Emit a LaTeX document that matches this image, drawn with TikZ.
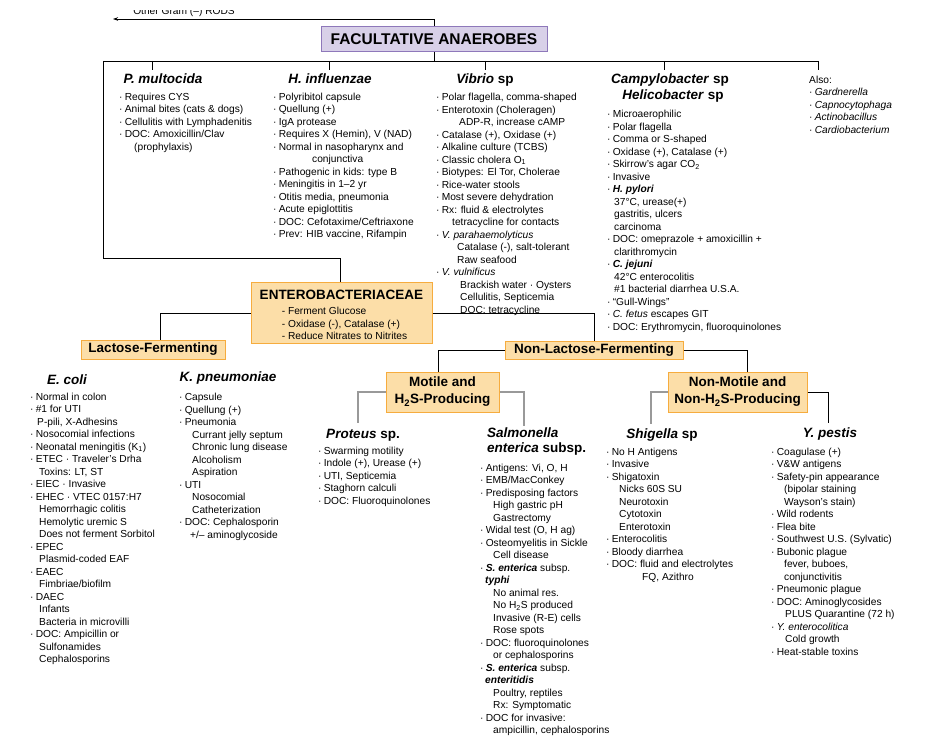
\documentclass[tikz,border=0pt]{standalone}
\usepackage{fontspec}
\setmainfont{Liberation Sans}
\usetikzlibrary{arrows.meta,positioning}

\definecolor{boxfill}{RGB}{252,222,168}
\definecolor{boxedge}{RGB}{246,172,62}
\definecolor{topfill}{RGB}{216,208,232}
\definecolor{topedge}{RGB}{142,120,186}

\newcommand\itemfont{\fontsize{10.2}{12.5}\selectfont}
\newcommand\headfont{\fontsize{13.5}{15.5}\selectfont\bfseries\itshape}
\newcommand\boxfont{\fontsize{13.5}{17}\selectfont\bfseries}
\newcommand\bul{\textperiodcentered\hspace{2.2pt}}
\newcommand\ind[1]{\hspace*{#1pt}}
\newcommand\bi[1]{\textbf{\textit{#1}}}

\begin{document}
\begin{tikzpicture}[x=1pt, y=-1pt,
    head/.style={font=\headfont, inner sep=0pt},
    lst/.style={anchor=north west, align=left, inner sep=0pt, font=\itemfont},
    obox/.style={draw=boxedge, fill=boxfill, line width=1pt, inner sep=0pt, font=\boxfont, align=center},
    link/.style={line width=0.8pt},
    glink/.style={line width=1.1pt, draw=black!40}
]
\useasboundingbox (0,0) rectangle (941,746);

% Top of the chart
\begin{scope}
  \clip (0,10.5) rectangle (941,20);
  \node[font=\itemfont, anchor=base, inner sep=0pt] (othr) at (184,14.5) {Other Gram (--) RODS};
\end{scope}
\node[draw=topedge, fill=topfill, line width=1pt, inner sep=0pt, minimum width=226pt, minimum height=25pt,
      font=\fontsize{15.5}{18}\selectfont\bfseries] (fac) at (434,39) {FACULTATIVE ANAEROBES};
\coordinate (otip) at (113,19);
\draw[link, -{Stealth[length=5pt, width=3.5pt]}] (fac.north) |- (otip);

\coordinate (busL) at (103,61);
\coordinate (busR) at (818,61);
\draw[link] (busL) -- (busR);
\draw[link] (fac.south) -- (fac.south |- busL);
\foreach \tx/\nm in {152/pm, 329/hi, 485/vib, 664/cam, 818/als}
  \coordinate (t\nm) at (\tx,70);
\foreach \nm in {pm, hi, vib, cam, als}
  \draw[link] (t\nm |- busL) -- (t\nm);

% Upper columns
\node[head] (pmh) at (163,79) {P. multocida};
\node[lst] (pml) at (119,91.5) {\strut\bul Requires CYS\\
\bul Animal bites (cats \& dogs)\\
\bul Cellulitis with Lymphadenitis\\
\bul DOC: Amoxicillin/Clav\\
\ind{15}(prophylaxis)};

\node[head] (hih) at (330,79) {H. influenzae};
\node[lst] (hil) at (273,91.5) {\strut\bul Polyribitol capsule\\
\bul Quellung (+)\\
\bul IgA protease\\
\bul Requires X (Hemin), V (NAD)\\
\bul Normal in nasopharynx and\\
\ind{39}conjunctiva\\
\bul Pathogenic in kids: type B\\
\bul Meningitis in 1--2 yr\\
\bul Otitis media, pneumonia\\
\bul Acute epiglottitis\\
\bul DOC: Cefotaxime/Ceftriaxone\\
\bul Prev: HIB vaccine, Rifampin};

\node[head] (vibh) at (485,80) {Vibrio\textup{ sp}};
\node[lst] (vibl) at (436,92) {\strut\bul Polar flagella, comma-shaped\\
\bul Enterotoxin (Choleragen)\\
\ind{23}ADP-R, increase cAMP\\
\bul Catalase (+), Oxidase (+)\\
\bul Alkaline culture (TCBS)\\
\bul Classic cholera O\textsubscript{1}\\
\bul Biotypes: El Tor, Cholerae\\
\bul Rice-water stools\\
\bul Most severe dehydration\\
\bul Rx: fluid \& electrolytes\\
\ind{16}tetracycline for contacts\\
\bul \textit{V. parahaemolyticus}\\
\ind{21}Catalase (-), salt-tolerant\\
\ind{21}Raw seafood\\
\bul \textit{V. vulnificus}\\
\ind{24}Brackish water \textperiodcentered{} Oysters\\
\ind{24}Cellulitis, Septicemia\\
\ind{24}DOC: tetracycline};

\node[head, align=center] (camh) at (670,88) {Campylobacter\textup{ sp}\\\hspace*{6pt}Helicobacter\textup{ sp}};
\node[lst] (caml) at (607,108.8) {\strut\bul Microaerophilic\\
\bul Polar flagella\\
\bul Comma or S-shaped\\
\bul Oxidase (+), Catalase (+)\\
\bul Skirrow's agar CO\textsubscript{2}\\
\bul Invasive\\
\bul \bi{H. pylori}\\
\ind{7}37°C, urease(+)\\
\ind{7}gastritis, ulcers\\
\ind{7}carcinoma\\
\bul DOC: omeprazole + amoxicillin +\\
\ind{7}clarithromycin\\
\bul \bi{C. jejuni}\\
\ind{7}42°C enterocolitis\\
\ind{7}\#1 bacterial diarrhea U.S.A.\\
\bul ``Gull-Wings''\\
\bul \textit{C. fetus} escapes GIT\\
\bul DOC: Erythromycin, fluoroquinolones};

\node[lst] (alsl) at (809,74.5) {\strut Also:\\
\bul \textit{Gardnerella}\\
\bul \textit{Capnocytophaga}\\
\bul \textit{Actinobacillus}\\
\bul \textit{Cardiobacterium}};

% Enterobacteriaceae and its branches
\node[obox, minimum width=181pt, minimum height=60pt] (entero) at (341.5,313) {\rule{0pt}{17.5pt}ENTEROBACTERIACEAE\\[-2pt]
{\itemfont\mdseries\hspace*{6pt}\begin{tabular}[t]{@{}l@{}}- Ferment Glucose\\- Oxidase (-), Catalase (+)\\- Reduce Nitrates to Nitrites\end{tabular}}};
\node[obox, minimum width=144pt, minimum height=19pt] (lac) at (153,349.5) {Lactose-Fermenting};
\node[obox, minimum width=178pt, minimum height=18pt] (nonlac) at (594,350) {Non-Lactose-Fermenting};
\node[obox, minimum width=113pt, minimum height=40pt] (mot) at (442.5,392) {Motile and\\H\textsubscript{2}S-Producing};
\node[obox, minimum width=139pt, minimum height=40pt] (nonmot) at (737.5,392) {Non-Motile and\\Non-H\textsubscript{2}S-Producing};

\coordinate (jE) at (340,258);
\draw[link] (busL) |- (jE) -- (jE |- entero.north);
\draw[link] (entero.west) -| ([xshift=7pt]lac.north);
\draw[link] (entero.east) -| (nonlac.north);
\draw[link] (nonlac.west) -| ([xshift=-4.5pt]mot.north);
\draw[link] (nonlac.east) -| ([xshift=9.5pt]nonmot.north);

% Lower columns
\node[head] (ecoh) at (67,380) {E. coli};
\node[lst] (ecol) at (30,391.5) {\strut\bul Normal in colon\\
\bul \#1 for UTI\\
\ind{7}P-pili, X-Adhesins\\
\bul Nosocomial infections\\
\bul Neonatal meningitis (K\textsubscript{1})\\
\bul ETEC \textperiodcentered{} Traveler's Drha\\
\ind{9}Toxins: LT, ST\\
\bul EIEC \textperiodcentered{} Invasive\\
\bul EHEC \textperiodcentered{} VTEC 0157:H7\\
\ind{9}Hemorrhagic colitis\\
\ind{9}Hemolytic uremic S\\
\ind{9}Does not ferment Sorbitol\\
\bul EPEC\\
\ind{9}Plasmid-coded EAF\\
\bul EAEC\\
\ind{9}Fimbriae/biofilm\\
\bul DAEC\\
\ind{9}Infants\\
\ind{9}Bacteria in microvilli\\
\bul DOC: Ampicillin or\\
\ind{9}Sulfonamides\\
\ind{9}Cephalosporins};

\node[head] (kpnh) at (228,378) {K. pneumoniae};
\node[lst] (kpnl) at (179,392) {\strut\bul Capsule\\
\bul Quellung (+)\\
\bul Pneumonia\\
\ind{13}Currant jelly septum\\
\ind{13}Chronic lung disease\\
\ind{13}Alcoholism\\
\ind{13}Aspiration\\
\bul UTI\\
\ind{13}Nosocomial\\
\ind{13}Catheterization\\
\bul DOC: Cephalosporin\\
\ind{11}+/-- aminoglycoside};

\node[head] (proh) at (363,435) {Proteus\textup{ sp.}};
\node[lst] (prol) at (318,445.5) {\strut\bul Swarming motility\\
\bul Indole (+), Urease (+)\\
\bul UTI, Septicemia\\
\bul Staghorn calculi\\
\bul DOC: Fluoroquinolones};

\node[head, anchor=west, align=left] (salh) at (487,441.5) {Salmonella\\enterica\textup{ subsp.}};
\node[lst] (sall) at (480,462.5) {\strut\bul Antigens: Vi, O, H\\
\bul EMB/MacConkey\\
\bul Predisposing factors\\
\ind{13}High gastric pH\\
\ind{13}Gastrectomy\\
\bul Widal test (O, H ag)\\
\bul Osteomyelitis in Sickle\\
\ind{13}Cell disease\\
\bul \bi{S. enterica} subsp.\\
\ind{5}\bi{typhi}\\
\ind{13}No animal res.\\
\ind{13}No H\textsubscript{2}S produced\\
\ind{13}Invasive (R-E) cells\\
\ind{13}Rose spots\\
\bul DOC: fluoroquinolones\\
\ind{13}or cephalosporins\\
\bul \bi{S. enterica} subsp.\\
\ind{5}\bi{enteritidis}\\
\ind{13}Poultry, reptiles\\
\ind{13}Rx: Symptomatic\\
\bul DOC for invasive:\\
\ind{13}ampicillin, cephalosporins};

\node[head] (shih) at (662,435) {Shigella\textup{ sp}};
\node[lst] (shil) at (606,446.5) {\strut\bul No H Antigens\\
\bul Invasive\\
\bul Shigatoxin\\
\ind{13}Nicks 60S SU\\
\ind{13}Neurotoxin\\
\ind{13}Cytotoxin\\
\ind{13}Enterotoxin\\
\bul Enterocolitis\\
\bul Bloody diarrhea\\
\bul DOC: fluid and electrolytes\\
\ind{36}FQ, Azithro};

\node[head] (yph) at (830,434) {Y. pestis};
\node[lst] (ypl) at (771,446.5) {\strut\bul Coagulase (+)\\
\bul V\&W antigens\\
\bul Safety-pin appearance\\
\ind{13}(bipolar staining\\
\ind{13}Wayson's stain)\\
\bul Wild rodents\\
\bul Flea bite\\
\bul Southwest U.S. (Sylvatic)\\
\bul Bubonic plague\\
\ind{13}fever, buboes,\\
\ind{13}conjunctivitis\\
\bul Pneumonic plague\\
\bul DOC: Aminoglycosides\\
\ind{14}PLUS Quarantine (72 h)\\
\bul \textit{Y. enterocolitica}\\
\ind{14}Cold growth\\
\bul Heat-stable toxins};

% Connections to the lower columns
\coordinate (cPro) at (358,423);
\coordinate (cSal) at (524,426);
\coordinate (cShi) at (651,424);
\coordinate (cYp) at (828,423);
\draw[glink] (mot.west) -| (cPro);
\draw[glink] (mot.east) -| (cSal);
\draw[glink] (nonmot.west) -| (cShi);
\draw[link] (nonmot.east) -| (cYp);
\end{tikzpicture}
\end{document}
